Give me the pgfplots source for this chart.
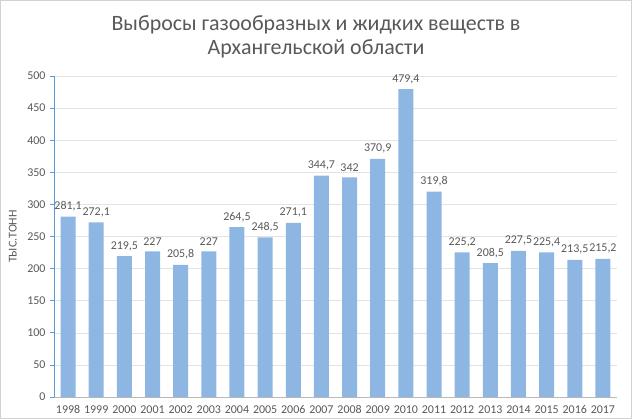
\documentclass[border=0pt]{standalone}
\usepackage{pgfplots}
\pgfplotsset{compat=1.18}
\usepackage{fontspec}
\setmainfont{Carlito}
\definecolor{txt}{HTML}{595959}
\definecolor{barc}{HTML}{8DB6E2}
\definecolor{yax}{HTML}{5B9BD5}
\definecolor{grd}{HTML}{E3E3E3}
\begin{document}
\begin{tikzpicture}
\draw[draw=gray!35, line width=0.8bp] (0.4bp,0.4bp) rectangle (631.6bp,418.6bp);
\node[text=txt, font=\fontsize{22}{24}\selectfont, align=center, anchor=center] at (316bp,382bp)
  {Выбросы газообразных и жидких веществ в\\Архангельской области};
\begin{axis}[
  at={(54bp,22bp)}, anchor=south west,
  scale only axis, width=563bp, height=321bp,
  ybar, bar width=15bp,
  xmin=-0.5, xmax=19.5, ymin=0, ymax=500,
  ytick={0,50,...,500},
  xtick={0,...,19},
  xticklabels={1998,1999,2000,2001,2002,2003,2004,2005,2006,2007,2008,2009,2010,2011,2012,2013,2014,2015,2016,2017},
  axis x line*=bottom, axis y line*=left,
  x axis line style={draw=gray!55, line width=0.8bp, -},
  y axis line style={draw=yax, line width=0.8bp, -},
  major x tick style={draw=none},
  major y tick style={draw=yax, line width=0.8bp},
  tick align=outside, major tick length=4bp,
  ymajorgrids, grid style={draw=grd, line width=0.6bp},
  tick label style={text=txt, font=\fontsize{12}{14}\selectfont},
  /pgf/number format/assume math mode=true,
  /pgf/number format/use comma,
  /pgf/number format/1000 sep={},
  xticklabel style={yshift=-1bp},
  yticklabel style={xshift=-1bp},
  ylabel={ТЫС.ТОНН},
  every axis y label/.style={at={(axis description cs:-0.073,0.5)}, rotate=90, anchor=center, text=txt, font=\fontsize{12}{14}\selectfont},
  nodes near coords,
  every node near coord/.append style={text=txt, font=\fontsize{12}{14}\selectfont, yshift=2bp},
  clip=false,
]
\addplot[fill=barc, draw=none] coordinates {
(0,281.1) (1,272.1) (2,219.5) (3,227) (4,205.8) (5,227) (6,264.5) (7,248.5) (8,271.1) (9,344.7)
(10,342) (11,370.9) (12,479.4) (13,319.8) (14,225.2) (15,208.5) (16,227.5) (17,225.4) (18,213.5) (19,215.2)};
\end{axis}
\end{tikzpicture}
\end{document}
